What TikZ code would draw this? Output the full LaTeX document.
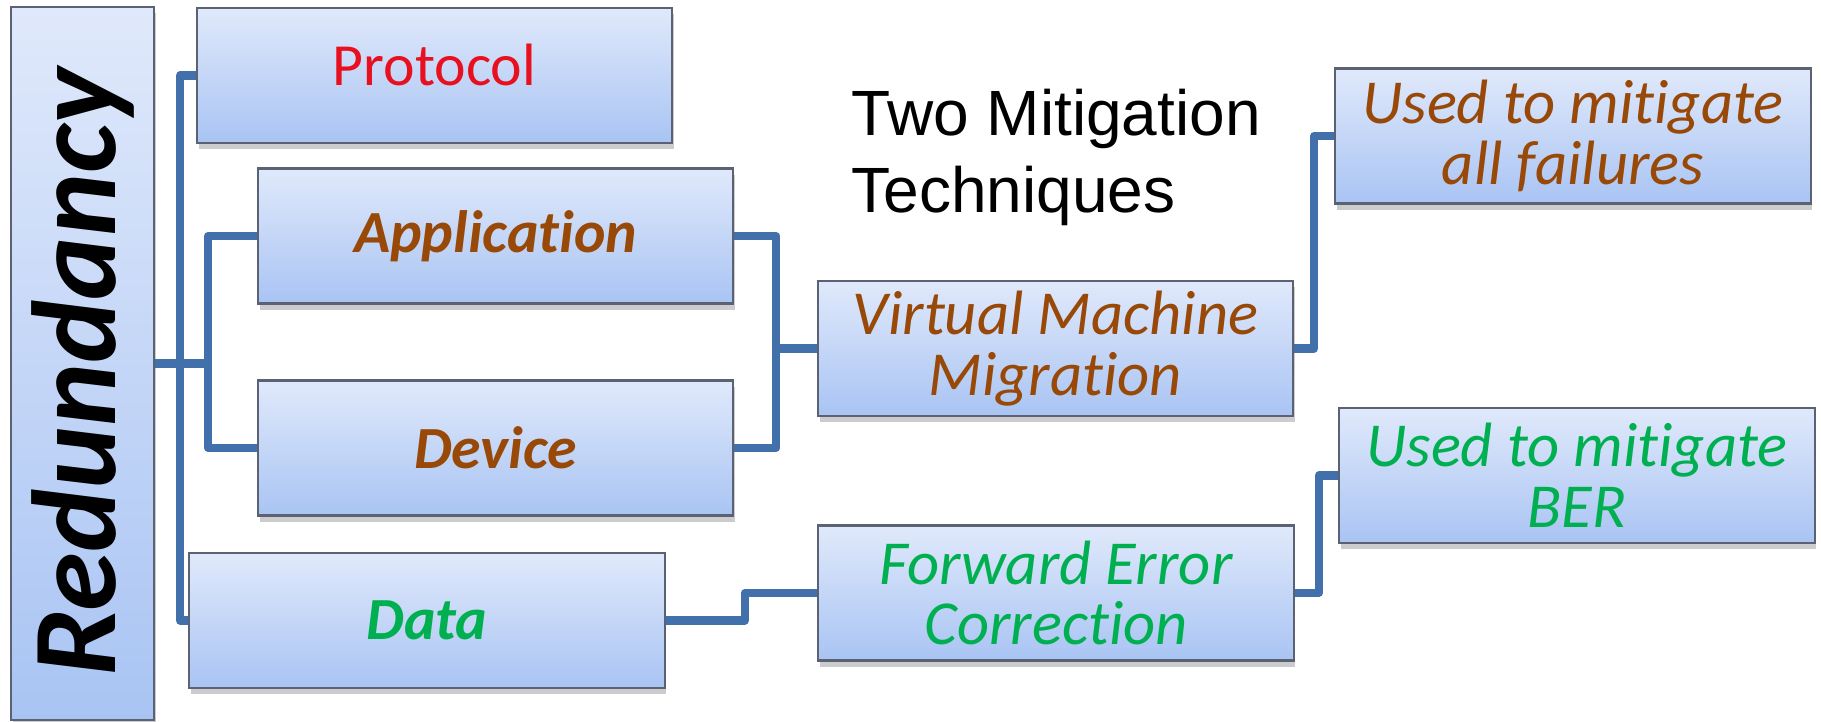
\documentclass[tikz,border=0pt]{standalone}
\usepackage{fontspec}
\setmainfont{Carlito}[Ligatures=NoCommon]
\newfontfamily\arialfont{Liberation Sans}
\usepackage{graphicx}
\usepackage{tikz}
\usetikzlibrary{shadows}
\usetikzlibrary{positioning}
\definecolor{boxtop}{HTML}{E0E9FB}
\definecolor{boxbot}{HTML}{A9C4F3}
\definecolor{boxline}{HTML}{5B6273}
\definecolor{linkblue}{HTML}{4170AA}
\definecolor{txtred}{HTML}{E8101E}
\definecolor{txtbrown}{HTML}{984807}
\definecolor{txtgreen}{HTML}{00B050}
\newcommand{\boxsize}{\fontsize{17}{17}\selectfont}
\newcommand{\itsize}{\fontsize{17.8}{17.2}\selectfont}
\tikzstyle{techbox} = [rectangle, minimum width=4.75cm, minimum height=1.35cm, align=center, inner sep=0pt, draw=boxline, line width=0.6pt, top color=boxtop, bottom color=boxbot, drop shadow={shadow xshift=0.5pt, shadow yshift=-1.8pt, opacity=0.4}, font=\boxsize]
\tikzstyle{brownbold} = [text=txtbrown, font=\boxsize\bfseries\itshape]
\tikzstyle{greenbold} = [text=txtgreen, font=\boxsize\bfseries\itshape]
\tikzstyle{brownit} = [text=txtbrown, font=\itsize\itshape]
\tikzstyle{greenit} = [text=txtgreen, font=\itsize\itshape]
\tikzstyle{conn} = [draw=linkblue, line width=2.3pt, line join=round]

\begin{document}
\begin{tikzpicture}[x=0.01cm, y=-0.01cm]
    \useasboundingbox (0,0) rectangle (1821,721);

    \node (red) [techbox, minimum width=1.43cm, minimum height=7.13cm, font=\fontsize{34}{36}\selectfont\bfseries\itshape] at (82.5,363.5) {\rotatebox{90}{Redundancy\hspace{0.18cm}}};
    \node (prot) [techbox, text=txtred] at (434.5,75.5) {Protocol\rule[-6pt]{0pt}{1pt}};
    \node (app) [techbox, brownbold] at (495.5,236) {Application};
    \node (dev) [techbox, brownbold] at (495.5,448) {Device};
    \node (data) [techbox, greenbold] at (427,620.5) {Data};
    \node (vmm) [techbox, brownit] at (1055.5,348.5) {Virtual Machine\\Migration};
    \node (fec) [techbox, greenit] at (1056,593) {Forward Error\\Correction};
    \node (fail) [techbox, brownit] at (1573,136) {Used to mitigate\\all failures};
    \node (ber) [techbox, greenit] at (1577,475.5) {Used to mitigate\\BER};
    \node (title) [anchor=west, align=left, inner sep=0pt, font=\arialfont\fontsize{18.2}{21.9}\selectfont] at (851,157) {Two Mitigation\\Techniques};

    \coordinate (rbus) at (180,363.5);
    \coordinate (abus) at (208,363.5);

    \draw [conn] (red.east) -- (abus);
    \draw [conn] (prot.west) -| (rbus);
    \draw [conn] (data.west) -| (rbus);
    \draw [conn] (app.west) -| (abus);
    \draw [conn] (dev.west) -| (abus);
    \draw [conn] (app.east) -- ++(42,0) |- (vmm.west);
    \draw [conn] (dev.east) -- ++(42,0) |- (vmm.west);
    \draw [conn] (vmm.east) -- ++(20,0) |- (fail.west);
    \draw [conn] (data.east) -- ++(79,0) |- (fec.west);
    \draw [conn] (fec.east) -- ++(24,0) |- (ber.west);
\end{tikzpicture}
\end{document}
